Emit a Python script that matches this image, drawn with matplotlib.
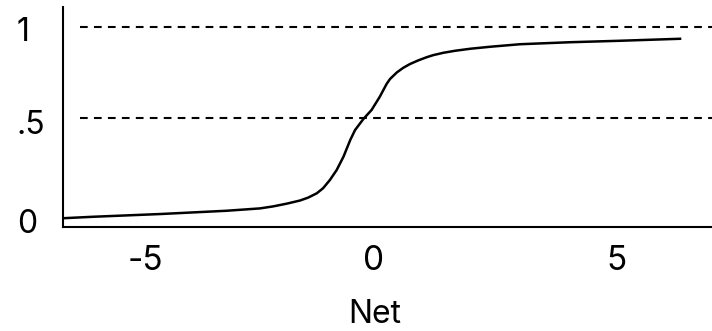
import matplotlib
matplotlib.use("Agg")
import matplotlib.pyplot as plt
from matplotlib.transforms import ScaledTranslation

# ---- data ----
net = [-6.41, -5.79, -4.41, -3.04, -2.35, -2.08, -1.80, -1.53, -1.36, -1.18,
       -1.05, -0.91, -0.77, -0.63, -0.49, -0.39, -0.22, -0.05, 0.12, 0.26,
       0.33, 0.47, 0.60, 0.74, 0.91, 1.09, 1.22, 1.43, 1.67, 1.98,
       2.39, 3.01, 4.04, 5.07, 6.31]
output = [-0.049, -0.041, -0.026, -0.008, 0.005, 0.016, 0.031, 0.048, 0.064, 0.088,
          0.116, 0.161, 0.216, 0.289, 0.381, 0.436, 0.496, 0.546, 0.619, 0.689,
          0.716, 0.752, 0.777, 0.798, 0.818, 0.836, 0.847, 0.860, 0.871, 0.882,
          0.893, 0.907, 0.918, 0.926, 0.937]
ref_levels = [1.0, 0.5]
ref_start = -6.06

x_ticks = [-5, 0, 5]
x_tick_labels = ["-5", "0", "5"]
y_ticks = [0, 0.5, 1]
y_tick_labels = ["0", ".5", "1"]
x_label = "Net"

# ---- figure ----
plt.rcParams['font.family'] = ['Inter', 'DejaVu Sans']
fig = plt.figure(figsize=(7.12, 3.31), dpi=100)
ax = fig.add_axes([0.0881, 0.3151, 1 - 0.0881, 0.978 - 0.3151])

xmin, xmax = -6.419, 6.969
ax.set_xlim(xmin, xmax)
ax.set_ylim(-0.0956, 1.110)

ax.plot(net, output, color='black', lw=1.8, solid_joinstyle='round')
for lv in ref_levels:
    ax.hlines(lv, ref_start, xmax, colors='black', linestyles=(0, (3.7, 3.0)), lw=1.5)

for s in ['top', 'right']:
    ax.spines[s].set_visible(False)
for s in ['left', 'bottom']:
    ax.spines[s].set_linewidth(1.5)

ax.set_xticks(x_ticks, x_tick_labels)
ax.set_yticks(y_ticks, y_tick_labels)
ax.tick_params(axis='both', length=0)
ax.tick_params(axis='x', labelsize=24, pad=13)
ax.tick_params(axis='y', labelsize=23, pad=33)

for lab in ax.get_yticklabels():
    lab.set_horizontalalignment('left')

# individual label offsets (pixels -> inches) as in reference
x_off = [14, 0, 0]
for lab, dx in zip(ax.get_xticklabels(), x_off):
    lab.set_transform(lab.get_transform() + ScaledTranslation(dx / 100, 0, fig.dpi_scale_trans))
y_off = [-11.5, -3.4, -1.9]
for lab, dy in zip(ax.get_yticklabels(), y_off):
    lab.set_transform(lab.get_transform() + ScaledTranslation(0, dy / 100, fig.dpi_scale_trans))

ax.set_xlabel(x_label, fontsize=23)
ax.xaxis.set_label_coords(0.480, -0.33)

fig.savefig("out.png", dpi=100)
